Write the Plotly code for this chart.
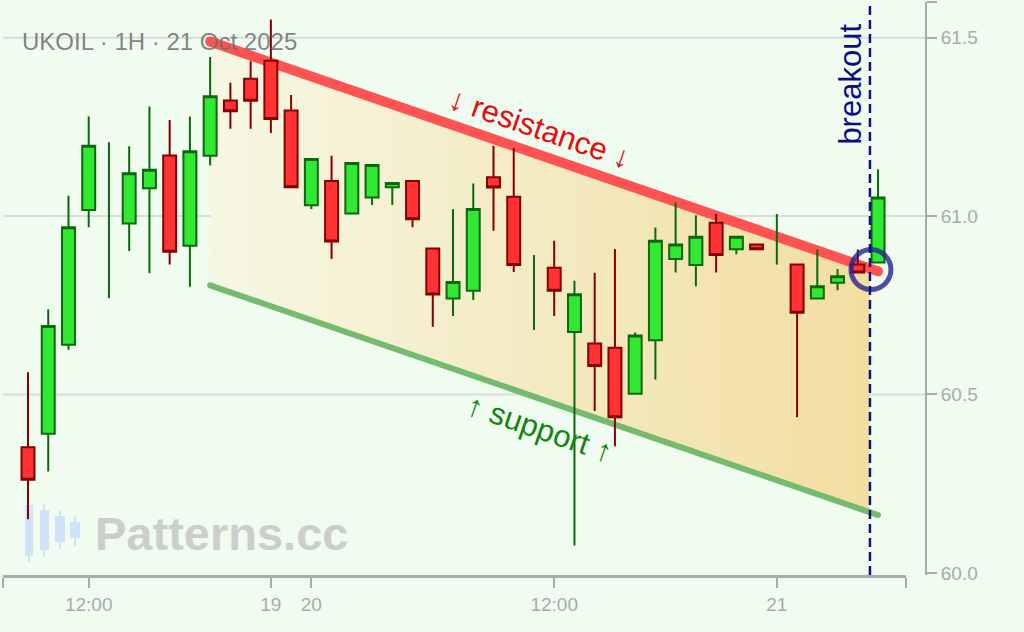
import numpy as np
import plotly.graph_objects as go

# UKOIL 1H candles
opens = [60.352, 60.390, 60.639, 61.017, 60.990, 60.979, 61.078, 61.170, 60.917, 61.169,
         61.324, 61.385, 61.435, 61.296, 61.030, 61.098, 61.007, 61.052, 61.081, 61.098,
         60.909, 60.769, 60.791, 61.109, 61.054, 60.790, 60.855, 60.675, 60.643, 60.631,
         60.502, 60.652, 60.880, 60.863, 60.981, 60.907, 60.920, 60.930, 60.864, 60.769,
         60.813, 60.864, 60.870]
highs = [60.562, 60.739, 61.057, 61.279, 61.207, 61.196, 61.307, 61.269, 61.279, 61.446,
         61.374, 61.434, 61.551, 61.339, 61.160, 61.169, 61.149, 61.143, 61.093, 61.098,
         60.909, 61.019, 61.091, 61.197, 61.191, 60.891, 60.931, 60.819, 60.841, 60.908,
         60.674, 60.968, 61.039, 61.002, 61.006, 60.942, 60.920, 61.006, 60.864, 60.906,
         60.852, 60.906, 61.131]
lows = [60.150, 60.284, 60.625, 60.969, 60.770, 60.902, 60.840, 60.864, 60.802, 61.142,
        61.245, 61.245, 61.233, 61.081, 61.020, 60.880, 61.007, 61.031, 61.031, 60.969,
        60.690, 60.720, 60.765, 60.959, 60.843, 60.681, 60.720, 60.077, 60.454, 60.355,
        60.502, 60.542, 60.842, 60.803, 60.842, 60.893, 60.907, 60.864, 60.436, 60.769,
        60.792, 60.842, 60.870]
closes = [60.261, 60.692, 60.969, 61.197, 60.990, 61.120, 61.130, 60.900, 61.182, 61.336,
          61.294, 61.323, 61.272, 61.081, 61.160, 60.929, 61.149, 61.143, 61.093, 60.991,
          60.780, 60.815, 61.020, 61.080, 60.863, 60.790, 60.791, 60.781, 60.580, 60.436,
          60.665, 60.931, 60.920, 60.942, 60.891, 60.942, 60.907, 60.930, 60.729, 60.803,
          60.831, 60.842, 61.052]

# x axis labels (bar index -> label)
tick_pos = [3, 12, 14, 26, 37]
tick_text = ["12:00", "19", "20", "12:00", "21"]
y_ticks = [60.0, 60.5, 61.0, 61.5]

# channel lines
res_x = [9, 42]
res_y = [61.489, 60.845]
sup_x = [9, 42]
sup_y = [60.806, 60.162]
breakout_x = 41.6
breakout_pt = (41.65, 60.85)

x_range = [-1.235, 43.38]
y_range = [59.994, 61.6]

bars = np.arange(len(opens))
o, h, l, c = map(np.array, (opens, highs, lows, closes))
doji = o == c

fig = go.Figure()

# channel fill, cut at the breakout bar (base axes, under the candles)
fx = [res_x[0], breakout_x, breakout_x, sup_x[0]]
fy = [res_y[0], float(np.interp(breakout_x, res_x, res_y)),
      float(np.interp(breakout_x, sup_x, sup_y)), sup_y[0]]
fig.add_trace(go.Scatter(
    x=fx + [fx[0]], y=fy + [fy[0]], mode="lines", line=dict(width=0),
    fill="toself",
    fillgradient=dict(type="horizontal",
                      colorscale=[[0, "rgb(246,247,228)"], [1, "rgb(242,222,160)"]]),
    hoverinfo="skip",
))

fig.add_trace(go.Scatter(x=sup_x, y=sup_y, mode="lines+markers",
                         line=dict(color="#74bb70", width=6),
                         marker=dict(color="#74bb70", size=6), hoverinfo="skip"))
fig.add_trace(go.Scatter(x=res_x, y=res_y, mode="lines+markers",
                         line=dict(color="#ff5353", width=10),
                         marker=dict(color="#ff5353", size=10), hoverinfo="skip"))

# candles live on an overlay pair of axes so they sit on top of the channel
fig.add_trace(go.Candlestick(
    x=bars[~doji], open=o[~doji], high=h[~doji], low=l[~doji], close=c[~doji],
    increasing=dict(fillcolor="#33e833", line=dict(color="#0b690b", width=2)),
    decreasing=dict(fillcolor="#ff3333", line=dict(color="#850000", width=2)),
    whiskerwidth=0, hoverinfo="skip", xaxis="x2", yaxis="y2",
))
# candles with no body: wick only
fig.add_trace(go.Ohlc(
    x=bars[doji], open=o[doji], high=h[doji], low=l[doji], close=c[doji],
    tickwidth=0,
    increasing=dict(line=dict(color="#0b690b", width=2)),
    decreasing=dict(line=dict(color="#0b690b", width=2)),
    hoverinfo="skip", xaxis="x2", yaxis="y2",
))

fig.add_trace(go.Scatter(
    x=[breakout_pt[0]], y=[breakout_pt[1]], mode="markers",
    marker=dict(symbol="circle-open", size=40, color="rgba(35,35,145,0.8)",
                line=dict(width=5, color="rgba(35,35,145,0.8)")),
    hoverinfo="skip", xaxis="x2", yaxis="y2",
))

fig.add_shape(type="line", xref="x", yref="paper", x0=breakout_x, x1=breakout_x,
              y0=0, y1=1, line=dict(color="#10108a", width=2.5, dash="9px,5px"))

# horizontal grid runs the full width up to the price axis
for v in y_ticks[1:]:
    fig.add_shape(type="line", xref="paper", yref="y", x0=0, x1=1, y0=v, y1=v,
                  line=dict(color="#d9ddd9", width=2), layer="below")


# pixel -> paper helpers for decorations
def px(xp):
    return (xp - 3) / 923.0


def py(yp):
    return 1 - (yp - 2) / 573.0


# watermark logo
logo = [(29, 25, 33, 503, 562, 505, 556), (44, 40, 49, 504, 557, 510, 550),
        (60, 55, 65, 510, 549, 516, 542), (75, 70, 80, 516, 546, 522, 538)]
for wx, bx0, bx1, wy0, wy1, by0, by1 in logo:
    fig.add_shape(type="line", xref="paper", yref="paper", x0=px(wx), x1=px(wx),
                  y0=py(wy0), y1=py(wy1), line=dict(color="#cfe2f8", width=2), layer="below")
    fig.add_shape(type="rect", xref="paper", yref="paper", x0=px(bx0), x1=px(bx1),
                  y0=py(by0), y1=py(by1), line=dict(width=0), fillcolor="#cfe2f8", layer="below")

font = "Liberation Sans, Arial, sans-serif"
fig.add_annotation(xref="paper", yref="paper", x=px(93), y=py(533), xanchor="left",
                   yanchor="middle", text="Patterns.cc", showarrow=False,
                   font=dict(family=font, size=47, color="#cbcecb", weight="bold"))
fig.add_annotation(xref="paper", yref="paper", x=px(20), y=py(41), xanchor="left",
                   yanchor="middle", text="UKOIL · 1H · 21 Oct 2025", showarrow=False,
                   font=dict(family=font, size=24, color="rgba(110,110,110,0.85)"))
fig.add_annotation(x=25.3, y=61.245, text="↓ resistance ↓", showarrow=False, textangle=19,
                   font=dict(family=font, size=31, color="#e50d0d"))
fig.add_annotation(x=25.3, y=60.406, text="↑ support ↑", showarrow=False, textangle=19,
                   font=dict(family=font, size=31, color="#128512"))
fig.add_annotation(x=40.66, y=61.371, text="breakout", showarrow=False, textangle=-90,
                   font=dict(family=font, size=31, color="#0c0c85"))

fig.update_layout(
    width=1024, height=632,
    margin=dict(l=3, r=98, t=2, b=57),
    paper_bgcolor="#effcef", plot_bgcolor="rgba(0,0,0,0)",
    showlegend=False,
    boxgap=0.2, boxgroupgap=0.2,
    font=dict(family=font, size=19, color="#a8aca8"),
    xaxis=dict(
        domain=[0, 0.9783], range=x_range, rangeslider=dict(visible=False),
        tickvals=[x_range[0] + 0.02] + tick_pos + [x_range[1] - 0.02],
        ticktext=[""] + tick_text + [""],
        ticks="outside", ticklen=10, tickwidth=2, tickcolor="#a8aca8",
        showgrid=False, zeroline=False, showline=True, linecolor="#a8aca8", linewidth=3,
    ),
    yaxis=dict(
        range=y_range, side="right", anchor="free", position=1.0,
        tickvals=y_ticks + [y_range[1] - 0.001],
        ticktext=[f"{v:.1f}" for v in y_ticks] + [""],
        ticks="outside", ticklen=10, tickwidth=2, tickcolor="#a8aca8",
        showgrid=False, zeroline=False,
        showline=True, linecolor="#a8aca8", linewidth=2,
    ),
    xaxis2=dict(overlaying="x", matches="x", visible=False, rangeslider=dict(visible=False)),
    yaxis2=dict(overlaying="y", matches="y", visible=False),
)

# drop the default page margin so the figure sits at the window's corner
fig.write_html("out.html", config={"displayModeBar": False},
               post_script="document.body.style.margin='0';")
